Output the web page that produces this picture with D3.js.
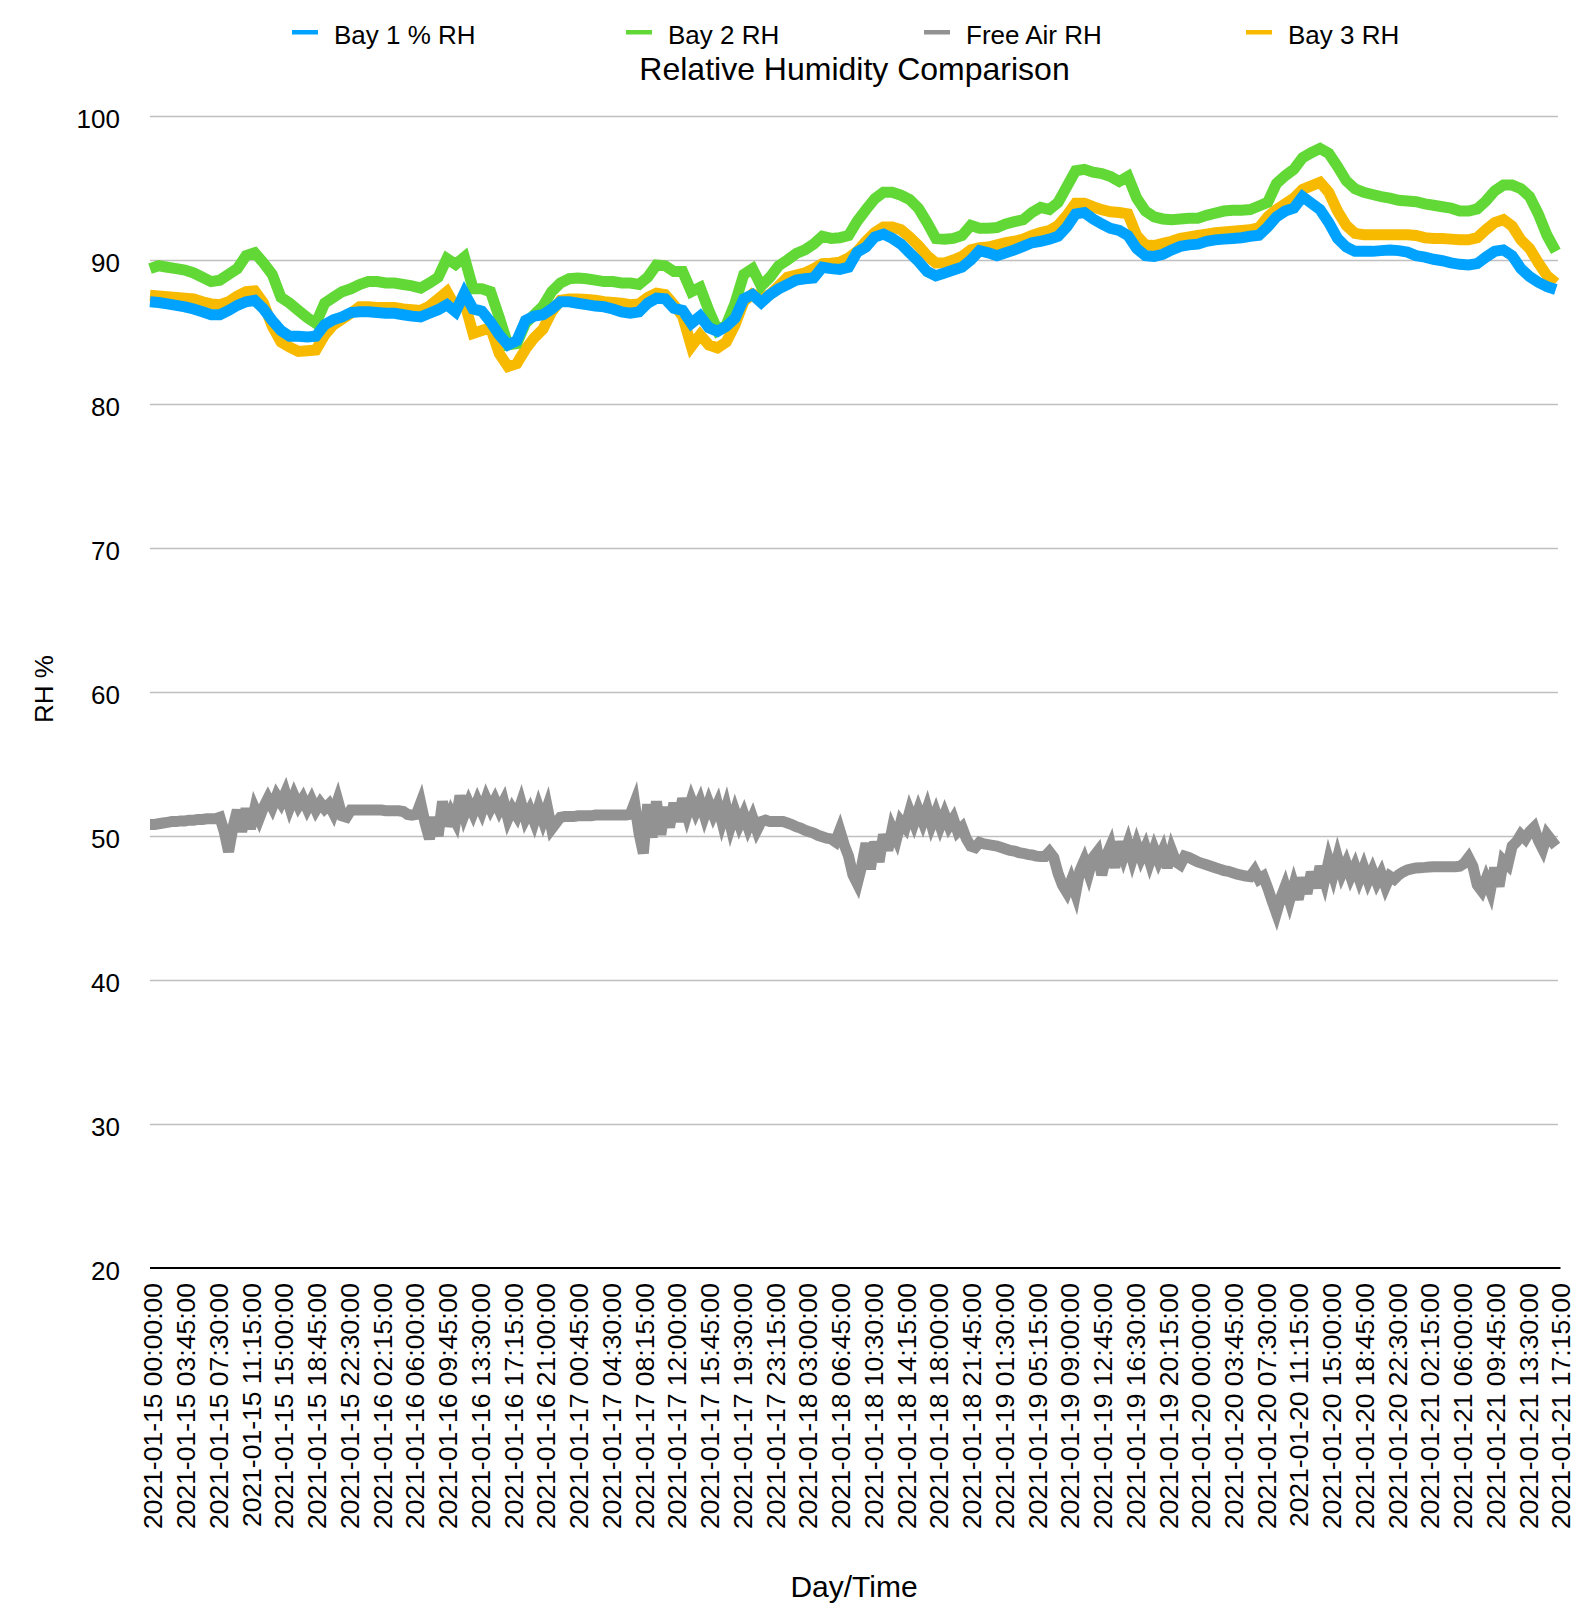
<!DOCTYPE html>
<html><head><meta charset="utf-8">
<script src="https://cdn.jsdelivr.net/npm/d3@7"></script>
<style>
html,body{margin:0;padding:0;background:#fff;}
svg text{font-family:"Liberation Sans",Arial,Helvetica,sans-serif;fill:#000;}
</style></head><body>
<svg id="chart" width="1588" height="1619"></svg>
<script>
// ---------- DATA ----------
const seriesNames = ["Bay 1 % RH", "Bay 2 RH", "Free Air RH", "Bay 3 RH"];
const seriesColors = ["#00A2FF", "#61D836", "#929292", "#F8BA00"];
const yTickValues = [20, 30, 40, 50, 60, 70, 80, 90, 100];
const tickLabels = [
 "2021-01-15 00:00:00","2021-01-15 03:45:00","2021-01-15 07:30:00","2021-01-15 11:15:00",
 "2021-01-15 15:00:00","2021-01-15 18:45:00","2021-01-15 22:30:00","2021-01-16 02:15:00",
 "2021-01-16 06:00:00","2021-01-16 09:45:00","2021-01-16 13:30:00","2021-01-16 17:15:00",
 "2021-01-16 21:00:00","2021-01-17 00:45:00","2021-01-17 04:30:00","2021-01-17 08:15:00",
 "2021-01-17 12:00:00","2021-01-17 15:45:00","2021-01-17 19:30:00","2021-01-17 23:15:00",
 "2021-01-18 03:00:00","2021-01-18 06:45:00","2021-01-18 10:30:00","2021-01-18 14:15:00",
 "2021-01-18 18:00:00","2021-01-18 21:45:00","2021-01-19 01:30:00","2021-01-19 05:15:00",
 "2021-01-19 09:00:00","2021-01-19 12:45:00","2021-01-19 16:30:00","2021-01-19 20:15:00",
 "2021-01-20 00:00:00","2021-01-20 03:45:00","2021-01-20 07:30:00","2021-01-20 11:15:00",
 "2021-01-20 15:00:00","2021-01-20 18:45:00","2021-01-20 22:30:00","2021-01-21 02:15:00",
 "2021-01-21 06:00:00","2021-01-21 09:45:00","2021-01-21 13:30:00","2021-01-21 17:15:00"
];
// category slots are 15-minute readings; one tick label every 15 slots
const slotsTotal = 645;
const slotsPerTick = 15;
// Bay series: one reading per hour (4 slots)
const baySlotStep = 4;
const bay1 = [
 87.1,87.05,86.95,86.85,86.75,86.6,86.4,86.2,86.2,86.5,
 86.85,87.1,87.2,86.6,85.8,85.1,84.7,84.7,84.65,84.7,
 85.5,85.85,86.05,86.35,86.4,86.4,86.35,86.3,86.3,86.2,
 86.1,86.05,86.3,86.55,86.9,86.4,87.7,86.6,86.45,85.7,
 84.8,84.1,84.4,85.8,86.1,86.2,86.6,87.1,87.1,87.0,
 86.9,86.8,86.75,86.6,86.4,86.3,86.4,87.0,87.35,87.3,
 86.65,86.5,85.6,86.1,85.3,85.05,85.4,85.95,87.3,87.6,
 87.05,87.6,88.0,88.3,88.6,88.7,88.75,89.5,89.4,89.35,
 89.5,90.55,90.9,91.6,91.8,91.5,91.1,90.5,89.9,89.2,
 88.9,89.1,89.3,89.5,90.0,90.65,90.5,90.3,90.5,90.7,
 90.95,91.2,91.3,91.45,91.65,92.3,93.2,93.3,92.85,92.5,
 92.2,92.05,91.7,90.8,90.3,90.25,90.4,90.7,90.95,91.05,
 91.1,91.3,91.4,91.45,91.5,91.55,91.65,91.72,92.3,93.0,
 93.4,93.6,94.4,93.95,93.5,92.6,91.5,90.9,90.6,90.6,
 90.6,90.65,90.7,90.65,90.55,90.3,90.2,90.05,89.95,89.8,
 89.7,89.65,89.75,90.2,90.6,90.7,90.3,89.4,88.85,88.45,
 88.15,87.95
];
const bay2 = [
 89.4,89.6,89.5,89.4,89.3,89.1,88.8,88.5,88.6,89.0,
 89.4,90.3,90.5,89.8,89.0,87.4,87.0,86.5,86.0,85.6,
 87.0,87.4,87.8,88.0,88.3,88.5,88.5,88.4,88.4,88.3,
 88.2,88.05,88.4,88.8,90.1,89.7,90.2,88.0,88.0,87.8,
 86.0,84.1,84.2,85.6,86.2,86.8,87.8,88.4,88.7,88.75,
 88.7,88.6,88.5,88.5,88.4,88.4,88.3,88.8,89.65,89.6,
 89.2,89.2,87.8,88.1,86.5,85.1,85.5,87.0,89.0,89.4,
 88.2,88.8,89.6,90.0,90.45,90.7,91.1,91.65,91.5,91.55,
 91.7,92.7,93.5,94.25,94.7,94.7,94.5,94.2,93.6,92.6,
 91.5,91.45,91.5,91.7,92.4,92.2,92.2,92.25,92.5,92.66,
 92.8,93.3,93.65,93.5,94.0,95.1,96.2,96.3,96.1,96.0,
 95.8,95.45,95.8,94.3,93.4,93.0,92.85,92.8,92.85,92.9,
 92.9,93.1,93.25,93.4,93.45,93.45,93.5,93.75,94.0,95.3,
 95.85,96.3,97.1,97.45,97.75,97.4,96.5,95.5,94.95,94.7,
 94.55,94.4,94.3,94.15,94.1,94.05,93.9,93.8,93.7,93.6,
 93.4,93.4,93.55,94.1,94.8,95.2,95.2,94.95,94.4,93.2,
 91.7,90.6
];
const bay3 = [
 87.55,87.5,87.45,87.4,87.35,87.3,87.1,86.95,86.9,87.1,
 87.5,87.8,87.85,87.0,85.4,84.3,83.95,83.65,83.7,83.75,
 84.8,85.5,85.9,86.3,86.75,86.75,86.7,86.7,86.7,86.6,
 86.55,86.5,86.8,87.3,87.8,86.7,87.1,84.9,85.1,85.3,
 83.5,82.6,82.8,83.8,84.6,85.2,86.4,87.2,87.3,87.3,
 87.25,87.2,87.1,87.05,87.0,86.9,86.95,87.4,87.7,87.6,
 86.9,86.1,84.0,84.8,84.1,83.9,84.3,85.5,87.1,87.65,
 87.4,87.6,88.2,88.8,88.95,89.1,89.4,89.75,89.77,89.85,
 90.15,90.6,91.3,91.9,92.3,92.3,92.1,91.6,91.0,90.3,
 89.8,89.8,90.0,90.25,90.7,90.85,90.9,91.05,91.2,91.3,
 91.45,91.7,91.9,92.05,92.4,93.1,93.94,93.94,93.7,93.5,
 93.35,93.3,93.2,91.7,91.05,91.0,91.15,91.3,91.5,91.6,
 91.7,91.8,91.9,91.95,92.0,92.05,92.1,92.25,93.0,93.5,
 93.9,94.3,94.9,95.15,95.4,94.7,93.4,92.4,91.85,91.75,
 91.75,91.75,91.75,91.75,91.75,91.7,91.55,91.5,91.5,91.45,
 91.4,91.4,91.55,92.1,92.6,92.8,92.35,91.4,90.8,89.8,
 88.9,88.4
];
// Free air: one reading per half hour (2 slots)
const freeSlotStep = 2;
const freeAir = [
 50.8,50.8,50.85,50.9,50.95,51.0,51.0,51.05,51.05,51.1,
 51.1,51.15,51.15,51.2,51.2,51.2,51.3,50.3,48.9,50.6,
 51.8,50.3,51.9,50.5,51.9,51.2,52.0,52.6,52.0,52.8,
 52.3,53.0,52.0,52.8,52.1,52.6,51.9,52.5,51.8,52.3,
 51.9,52.2,51.6,52.5,51.4,51.3,51.8,51.8,51.8,51.8,
 51.8,51.8,51.8,51.8,51.75,51.75,51.75,51.75,51.7,51.5,
 51.45,51.5,52.3,50.9,49.8,51.3,50.0,52.4,50.7,51.6,
 51.0,52.8,51.5,52.3,51.6,52.4,51.7,52.6,51.9,52.5,
 51.8,52.4,51.2,51.9,51.4,52.3,51.2,51.8,51.0,52.0,
 51.1,52.0,50.5,50.9,51.3,51.35,51.35,51.35,51.4,51.4,
 51.4,51.4,51.45,51.45,51.45,51.45,51.45,51.45,51.45,51.45,
 51.5,52.3,50.2,48.8,52.2,49.9,52.4,50.1,52.0,50.6,
 52.3,51.0,52.6,51.5,52.5,51.7,52.4,51.4,52.3,51.5,
 52.2,51.0,52.0,50.7,51.7,50.8,51.5,50.6,51.3,50.4,
 51.0,51.1,51.0,51.0,51.0,51.0,50.9,50.8,50.65,50.55,
 50.4,50.3,50.2,50.05,49.95,49.85,49.8,49.6,50.4,49.4,
 48.6,47.3,46.7,47.9,49.5,47.7,49.6,48.2,50.1,49.0,
 50.5,49.8,51.0,50.6,51.7,50.9,51.8,51.0,51.9,50.8,
 51.6,50.7,51.5,50.7,51.2,50.3,50.6,49.8,49.3,49.2,
 49.55,49.45,49.4,49.35,49.3,49.2,49.1,49.0,48.95,48.85,
 48.8,48.72,48.68,48.6,48.57,48.57,48.9,48.5,47.4,46.6,
 46.1,46.9,46.0,47.6,48.3,47.4,48.5,48.9,47.3,48.6,
 49.3,47.8,49.6,48.6,49.5,48.4,49.4,48.5,49.2,48.2,
 49.1,48.3,49.0,47.8,49.0,48.2,48.0,48.6,48.5,48.35,
 48.2,48.1,48.0,47.9,47.8,47.7,47.6,47.55,47.45,47.35,
 47.29,47.22,47.18,47.6,47.0,47.2,46.4,45.5,44.65,45.7,
 46.5,45.5,46.6,45.6,47.1,46.0,47.5,46.4,47.9,46.9,
 48.3,47.3,48.5,47.4,48.1,47.2,47.9,47.0,47.8,46.9,
 47.6,46.8,47.4,46.5,47.2,47.0,47.3,47.5,47.65,47.72,
 47.78,47.8,47.82,47.85,47.87,47.87,47.87,47.87,47.87,47.87,
 47.9,48.1,48.5,47.9,46.6,46.2,47.0,46.2,47.8,46.5,
 48.3,48.0,49.3,49.6,50.1,49.8,50.3,50.6,49.7,49.1,
 50.1,49.7,49.3
];

// ---------- LAYOUT ----------
const svg = d3.select("#chart");
const plotLeft = 150, plotRight = 1558, plotTop = 116, plotBottom = 1268;
const x = d3.scaleLinear().domain([0, slotsTotal]).range([plotLeft, plotRight]);
const y = d3.scaleLinear().domain([20, 100]).range([plotBottom, plotTop]);

// gridlines + y labels
const yAxis = d3.axisLeft(y).tickValues(yTickValues)
  .tickSizeInner(-(plotRight - plotLeft)).tickSizeOuter(0).tickPadding(30);
const gy = svg.append("g").attr("transform", `translate(${plotLeft},0)`).call(yAxis);
gy.select(".domain").remove();
gy.selectAll(".tick line").attr("stroke", "#c0c0c0").attr("stroke-width", 1.3)
  .filter(d => d === 20).remove();
gy.selectAll(".tick text").attr("font-size", 26).attr("dy", "0.45em")
  .attr("font-family", "Liberation Sans, Arial, sans-serif").attr("fill", "#000");

// x axis
const xAxis = d3.axisBottom(x)
  .tickValues(d3.range(0, slotsTotal + 1, slotsPerTick))
  .tickFormat(d => tickLabels[d / slotsPerTick]).tickSize(0);
const gx = svg.append("g").attr("transform", `translate(0,${plotBottom})`).call(xAxis);
gx.select(".domain").remove();
gx.selectAll(".tick text")
  .attr("transform", "rotate(-90)")
  .attr("x", -15).attr("y", 0).attr("dy", "0.45em")
  .style("text-anchor", "end")
  .attr("font-size", 26.5)
  .attr("font-family", "Liberation Sans, Arial, sans-serif").attr("fill", "#000");
svg.append("line").attr("x1", plotLeft).attr("x2", plotRight + 2.5)
  .attr("y1", plotBottom).attr("y2", plotBottom)
  .attr("stroke", "#000").attr("stroke-width", 2.2);

// series lines (Bay 3 drawn first, Bay 1 last/on top)
const lineFor = step => d3.line().x((d, i) => x(i * step)).y(d => y(d));
const seriesData = [
  {data: bay1, step: baySlotStep, color: seriesColors[0]},
  {data: bay2, step: baySlotStep, color: seriesColors[1]},
  {data: freeAir, step: freeSlotStep, color: seriesColors[2]},
  {data: bay3, step: baySlotStep, color: seriesColors[3]}
];
const lineWidth = 11;
seriesData.slice().reverse().forEach(s => {
  svg.append("path").datum(s.data)
    .attr("d", lineFor(s.step))
    .attr("fill", "none").attr("stroke", s.color)
    .attr("stroke-width", lineWidth)
    .attr("stroke-linejoin", "miter").attr("stroke-linecap", "butt");
});

// legend
const legendStarts = [292, 626, 924, 1246];
const lg = svg.append("g");
seriesNames.forEach((name, i) => {
  lg.append("rect").attr("x", legendStarts[i]).attr("y", 30)
    .attr("width", 26).attr("height", 4.5).attr("fill", seriesColors[i]);
  lg.append("text").attr("x", legendStarts[i] + 42).attr("y", 43.5)
    .attr("font-size", 26).text(name);
});

// title and axis titles
svg.append("text").attr("x", 854.5).attr("y", 80).attr("text-anchor", "middle")
  .attr("font-size", 32).text("Relative Humidity Comparison");
svg.append("text").attr("transform", "translate(53,689) rotate(-90)")
  .attr("text-anchor", "middle").attr("font-size", 26).text("RH %");
svg.append("text").attr("x", 854).attr("y", 1597).attr("text-anchor", "middle")
  .attr("font-size", 30).text("Day/Time");
</script>
</body></html>
